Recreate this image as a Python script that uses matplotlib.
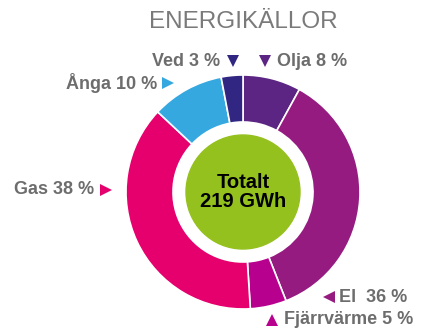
import matplotlib.pyplot as plt

# Energikällor, andel i procent
kallor = ['Olja', 'El', 'Fjärrvärme', 'Gas', 'Ånga', 'Ved']
andelar = [8, 36, 5, 38, 10, 3]
farger = ['#5c2483', '#951b81', '#b8008f', '#e5006d', '#35a8e0', '#312783']
totalt_gwh = 219

W, H = 422, 329
fig = plt.figure(figsize=(W / 100, H / 100), dpi=100)
ax = fig.add_axes([0, 0, 1, 1])

cx, cy = 243, H - 192
ax.pie(andelar, colors=farger, startangle=90, counterclock=False,
       radius=117, center=(cx, cy), frame=True,
       wedgeprops=dict(width=47, edgecolor='white', linewidth=1.2))
ax.set_xlim(0, W)
ax.set_ylim(0, H)
ax.set_aspect('equal')
ax.axis('off')

# grön mittcirkel med totalen
ax.add_patch(plt.Circle((cx, cy), 57, color='#95c11f', zorder=3))
ax.text(cx, cy, f'Totalt\n{totalt_gwh} GWh', ha='center', va='center',
        fontsize=14.5, fontweight='bold', color='black', linespacing=0.95,
        family='Liberation Sans', zorder=4)

ax.text(cx, H - 22, 'ENERGIKÄLLOR', ha='center', va='center', fontsize=17.5,
        color='#7a7a7a', family='Liberation Sans')

grey = '#6d6d6d'
fs = 13
lab = dict(fontsize=fs, fontweight='bold', color=grey, family='Liberation Sans',
           va='center')
pct = {k: v for k, v in zip(kallor, andelar)}
col = {k: c for k, c in zip(kallor, farger)}

# etiketter: (namn, text, textpos, justering, markör, markörpos)
etiketter = [
    ('Ved', f'Ved {pct["Ved"]} %', (220, 61), 'right', 'v', (233, 61)),
    ('Olja', f'Olja {pct["Olja"]} %', (277, 61), 'left', 'v', (265, 61)),
    ('Ånga', f'Ånga {pct["Ånga"]} %', (157, 83), 'right', '>', (168, 83)),
    ('Gas', f'Gas {pct["Gas"]} %', (94, 190), 'right', '>', (106, 190)),
    ('El', f'El  {pct["El"]} %', (339, 297), 'left', '<', (329, 297)),
    ('Fjärrvärme', f'Fjärrvärme {pct["Fjärrvärme"]} %', (284, 320), 'left', '^', (272, 320)),
]
for namn, txt, (tx, ty), ha, mk, (mx, my) in etiketter:
    ax.text(tx, H - ty, txt, ha=ha, **lab)
    ax.plot(mx, H - my, marker=mk, color=col[namn], markersize=9,
            markeredgewidth=0, linestyle='none', zorder=5)

fig.savefig('out.png', dpi=100)
